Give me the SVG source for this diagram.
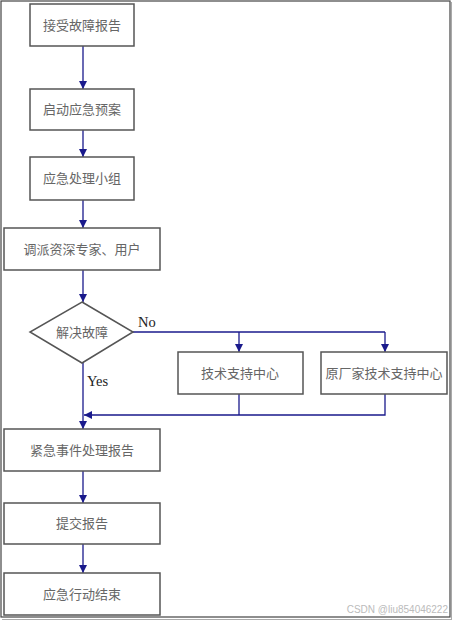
<svg xmlns="http://www.w3.org/2000/svg" width="453" height="621" viewBox="0 0 453 621">
<defs>
<marker id="ah" viewBox="0 0 10 10" refX="10" refY="5" markerWidth="8" markerHeight="8" markerUnits="userSpaceOnUse" orient="auto">
<path d="M0,0 L10,5 L0,10 Z" fill="#1a1a8c"/>
</marker>
<style>
.box{fill:#fff;stroke:#555;stroke-width:1.5}
.t{font-family:"Liberation Serif","Noto Sans CJK SC",serif;font-size:13px;fill:#666;text-anchor:middle;dominant-baseline:central}
.lbl{font-family:"Liberation Serif",serif;font-size:14.5px;fill:#222}
.c{fill:none;stroke:#1a1a8c;stroke-width:1.3}
.ca{fill:none;stroke:#1a1a8c;stroke-width:1.3;marker-end:url(#ah)}
</style>
</defs>
<rect width="453" height="621" fill="#fff"/>
<rect x="1" y="1" width="449" height="616" fill="none" stroke="#444" stroke-width="1.2"/>
<line x1="2" y1="619.5" x2="451" y2="619.5" stroke="#aaa" stroke-width="1"/>
<line x1="451.5" y1="2" x2="451.5" y2="620" stroke="#aaa" stroke-width="1"/>

<g id="connectors">
<line class="ca" x1="83" y1="46" x2="83" y2="89"/>
<line class="ca" x1="83" y1="130" x2="83" y2="157"/>
<line class="ca" x1="83" y1="200" x2="83" y2="228"/>
<line class="ca" x1="83" y1="270" x2="83" y2="302"/>
<polyline class="c" points="133,332 385,332"/>
<line class="ca" x1="239" y1="332" x2="239" y2="352"/>
<line class="ca" x1="385" y1="332" x2="385" y2="352"/>
<line class="ca" x1="83" y1="363" x2="83" y2="429"/>
<polyline class="c" points="239,394 239,415"/>
<polyline class="ca" points="385,394 385,415 84,415"/>
<line class="ca" x1="83" y1="471" x2="83" y2="503"/>
<line class="ca" x1="83" y1="544" x2="83" y2="573"/>
<text class="lbl" x="138" y="327">No</text>
<text class="lbl" x="87" y="386">Yes</text>
</g>

<g id="n1"><rect class="box" x="30" y="4" width="104" height="42"/><text class="t" x="82" y="25">接受故障报告</text></g>
<g id="n2"><rect class="box" x="30" y="89" width="104" height="41"/><text class="t" x="82" y="109.5">启动应急预案</text></g>
<g id="n3"><rect class="box" x="30" y="157" width="104" height="43"/><text class="t" x="82" y="178.5">应急处理小组</text></g>
<g id="n4"><rect class="box" x="4" y="228" width="156" height="42"/><text class="t" x="82" y="249">调派资深专家、用户</text></g>
<g id="n5"><polygon class="box" points="82,302 133,332 82,363 30,332"/><text class="t" x="82" y="332">解决故障</text></g>
<g id="n6"><rect class="box" x="178" y="352" width="125" height="42"/><text class="t" x="240" y="373">技术支持中心</text></g>
<g id="n7"><rect class="box" x="321" y="352" width="126" height="42"/><text class="t" x="384" y="373">原厂家技术支持中心</text></g>
<g id="n8"><rect class="box" x="4" y="429" width="156" height="42"/><text class="t" x="82" y="450">紧急事件处理报告</text></g>
<g id="n9"><rect class="box" x="4" y="503" width="156" height="41"/><text class="t" x="82" y="523.5">提交报告</text></g>
<g id="n10"><rect class="box" x="4" y="573" width="156" height="42"/><text class="t" x="82" y="594">应急行动结束</text></g>

<text x="448" y="613" font-family="Liberation Sans,sans-serif" font-size="10" fill="#bbb" text-anchor="end">CSDN @liu854046222</text>
</svg>
